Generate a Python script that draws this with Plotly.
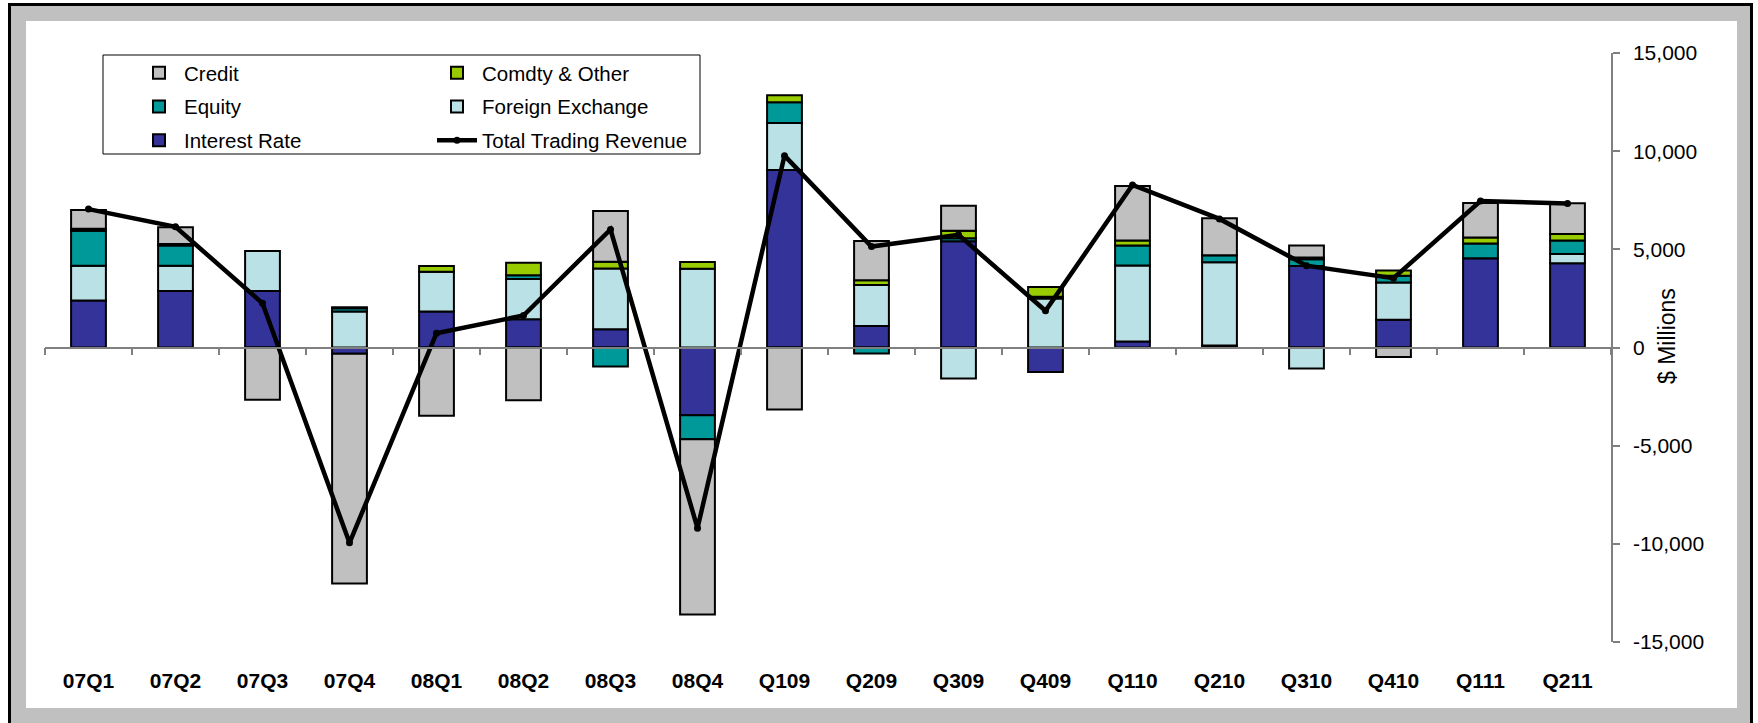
import plotly.graph_objects as go

# ---------------------------------------------------------------------------
# Data ($ millions)
quarters = ['07Q1', '07Q2', '07Q3', '07Q4', '08Q1', '08Q2', '08Q3', '08Q4', 'Q109',
            'Q209', 'Q309', 'Q409', 'Q110', 'Q210', 'Q310', 'Q410', 'Q111', 'Q211']

interest_rate    = [2390, 2880, 2880, -320, 1830, 1440, 930, -3450, 9040,
                    1090, 5410, -1250, 300, 100, 4150, 1410, 4540, 4290]
foreign_exchange = [1780, 1290, 2030, 1830, 2030, 2050, 3100, 4010, 2400,
                    2090, -1580, 2500, 3880, 4240, -1070, 1900, 0, 475]
equity           = [1780, 1020, 0, 170, 0, 190, -970, -1220, 1050,
                    -310, 150, 80, 1020, 360, 340, 340, 760, 680]
comdty_other     = [100, 80, 0, 50, 290, 640, 340, 350, 360,
                    240, 390, 500, 250, 0, 100, 270, 300, 340]
credit           = [950, 850, -2660, -11700, -3470, -2690, 2580, -8930, -3160,
                    2000, 1270, 0, 2780, 1880, 600, -490, 1760, 1560]
total_trading    = [7050, 6150, 2250, -9950, 730, 1630, 6010, -9200, 9770,
                    5140, 5740, 1870, 8280, 6550, 4170, 3530, 7460, 7340]

y_ticks       = [-15000, -10000, -5000, 0, 5000, 10000, 15000]
y_tick_labels = ['-15,000', '-10,000', '-5,000', '0', '5,000', '10,000', '15,000']

# ---------------------------------------------------------------------------
# Page geometry (pixels) -> paper coordinates
W, H = 1758, 723
PL, PR, PT, PB = 45, 1611, 53, 642

def px(x):
    return (x - PL) / (PR - PL)

def py(y):
    return (PB - y) / (PB - PT)

FONT = 'Liberation Sans, Arial, sans-serif'

# stacking order: first series sits next to zero
series = [
    ('Interest Rate',    interest_rate,    '#333399', 'legend',  3),
    ('Foreign Exchange', foreign_exchange, '#BAE1E5', 'legend2', 2),
    ('Equity',           equity,           '#009999', 'legend',  2),
    ('Comdty & Other',   comdty_other,     '#99CC00', 'legend2', 1),
    ('Credit',           credit,           '#C0C0C0', 'legend',  1),
]

data = []
for name, vals, color, leg, rank in series:
    data.append(go.Bar(x           = quarters,
                       y           = vals,
                       name        = name,
                       marker      = dict(color = color, line = dict(color = 'black', width = 2)),
                       legend      = leg,
                       legendrank  = rank,
                       legendgroup = name,
                       xaxis       = 'x',
                       yaxis       = 'y'))

data.append(go.Scatter(x           = quarters,
                       y           = total_trading,
                       name        = 'Total Trading Revenue',
                       mode        = 'lines+markers',
                       line        = dict(color = 'black', width = 4.5),
                       marker      = dict(color = 'black', size = 7),
                       legend      = 'legend2',
                       legendrank  = 3,
                       legendgroup = 'total',
                       xaxis       = 'x2',
                       yaxis       = 'y'))

shapes = [
    # outer frame: black edge + grey band
    dict(type = 'rect', xref = 'paper', yref = 'paper', layer = 'below',
         x0 = px(9.5), x1 = px(1751.5), y0 = py(740), y1 = py(4.5),
         fillcolor = '#C0C0C0', line = dict(color = 'black', width = 3)),
    dict(type = 'rect', xref = 'paper', yref = 'paper', layer = 'below',
         x0 = px(26), x1 = px(1737), y0 = py(708), y1 = py(21),
         fillcolor = 'white', line = dict(width = 0)),
    # legend box
    dict(type = 'rect', xref = 'paper', yref = 'paper', layer = 'below',
         x0 = px(103), x1 = px(700), y0 = py(154), y1 = py(55),
         fillcolor = 'white', line = dict(color = 'black', width = 1)),
]

legend_style = dict(orientation = 'v', bgcolor = 'rgba(0,0,0,0)', borderwidth = 0,
                    font = dict(family = FONT, size = 20.5, color = 'black'),
                    tracegroupgap = 4, traceorder = 'grouped', itemwidth = 40,
                    xanchor = 'left', yanchor = 'top')

layout = go.Layout(width         = W,
                   height        = H,
                   margin        = dict(l = PL, r = W - PR, t = PT, b = H - PB, pad = 0),
                   paper_bgcolor = 'white',
                   plot_bgcolor  = 'rgba(0,0,0,0)',
                   barmode       = 'relative',
                   bargap        = 0.6,
                   font          = dict(family = FONT, color = 'black'),
                   showlegend    = True,
                   legend        = dict(x = px(134), y = py(53), **legend_style),
                   legend2       = dict(x = px(432), y = py(53), **legend_style),
                   shapes        = shapes,
                   # category axis drawn along zero, ticks on category boundaries
                   xaxis         = dict(type = 'category',
                                        categoryarray = quarters,
                                        range = [-0.5, len(quarters) - 0.5],
                                        anchor = 'free', position = 0.5,
                                        showline = True, linecolor = '#808080', linewidth = 1.5,
                                        ticks = 'outside', tickson = 'boundaries',
                                        ticklen = 7, tickcolor = '#808080', tickwidth = 1.5,
                                        showticklabels = False, showgrid = False, zeroline = False),
                   # labels at the foot of the plot
                   xaxis2        = dict(type = 'category',
                                        categoryarray = quarters,
                                        range = [-0.5, len(quarters) - 0.5],
                                        overlaying = 'x', anchor = 'y', side = 'bottom',
                                        showline = False, ticks = '', showgrid = False,
                                        zeroline = False, ticklabelstandoff = 24,
                                        tickfont = dict(family = FONT, size = 21, color = 'black',
                                                        weight = 'bold')),
                   yaxis         = dict(side = 'right',
                                        range = [y_ticks[0], y_ticks[-1]],
                                        tickmode = 'array',
                                        tickvals = y_ticks,
                                        ticktext = y_tick_labels,
                                        showline = True, linecolor = '#808080', linewidth = 1.5,
                                        ticks = 'outside', ticklen = 7, tickcolor = '#808080',
                                        tickwidth = 1.5, ticklabelstandoff = 9,
                                        showgrid = False, zeroline = False,
                                        tickfont = dict(family = FONT, size = 21, color = 'black')),
                   annotations   = [dict(text = '$ Millions', xref = 'paper', yref = 'paper',
                                         x = px(1682), y = py(336), textangle = -90,
                                         showarrow = False,
                                         font = dict(family = FONT, size = 23, color = 'black'))])

fig = go.Figure(data = data, layout = layout)
fig.write_html('out.html',
               config = dict(displayModeBar = False),
               post_script = "document.body.style.margin = '0px'; document.body.style.overflow = 'hidden';")
